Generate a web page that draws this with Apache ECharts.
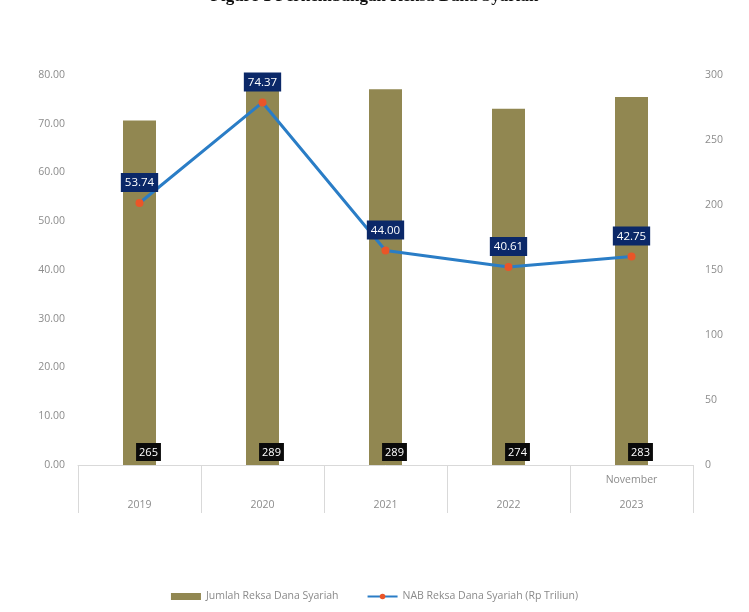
<!DOCTYPE html>
<html>
<head>
<meta charset="utf-8" />
<title>Reksa Dana Syariah</title>
<script src="https://cdn.jsdelivr.net/npm/echarts@6/dist/echarts.min.js"></script>
<style>
  html, body { margin: 0; padding: 0; background: #fff; }
  #main { width: 749px; height: 612px; }
</style>
</head>
<body>
<div id="main"></div>
<script>
  var years = ['2019', '2020', '2021', '2022', 'November\n2023'];
  var jumlah = [265, 289, 289, 274, 283];
  var nab = [53.74, 74.37, 44.00, 40.61, 42.75];
  var leftTicks = [0, 80, 10];
  var rightTicks = [0, 300, 50];

  var labelFont = '"Open Sans", "DejaVu Sans", sans-serif';

  var chart = echarts.init(document.getElementById('main'));
  var option = {
    animation: false,
    title: {
      text: 'Figure 1 Perkembangan Reksa Dana Syariah',
      left: 'center',
      top: -17,
      textStyle: { fontFamily: '"Liberation Serif", serif', fontSize: 17, fontWeight: 'bold', color: '#111' }
    },
    grid: { left: 78, right: 56, top: 75, bottom: 147 },
    legend: {
      bottom: 5,
      left: 'center',
      itemWidth: 30,
      itemHeight: 7,
      itemGap: 28,
      textStyle: { fontFamily: labelFont, fontSize: 10.5, color: '#8a8a8a' },
      data: [
        { name: 'Jumlah Reksa Dana Syariah', icon: 'rect' },
        { name: 'NAB Reksa Dana Syariah (Rp Triliun)' }
      ]
    },
    xAxis: {
      type: 'category',
      data: years,
      axisLine: { lineStyle: { color: '#d9d9d9' } },
      axisTick: { show: true, length: 48, lineStyle: { color: '#d9d9d9' } },
      axisLabel: {
        margin: 3,
        lineHeight: 25,
        fontFamily: labelFont,
        fontSize: 10.5,
        color: '#8c8c8c',
        formatter: function (v) { return v.indexOf('\n') < 0 ? '\n' + v : v; }
      }
    },
    yAxis: [{
      type: 'value',
      min: leftTicks[0], max: leftTicks[1], interval: leftTicks[2],
      axisLine: { show: false },
      axisTick: { show: false },
      splitLine: { show: false },
      axisLabel: {
        margin: 13, fontFamily: labelFont, fontSize: 10.5, color: '#8c8c8c',
        formatter: function (v) { return v.toFixed(2); }
      }
    }, {
      type: 'value',
      min: rightTicks[0], max: rightTicks[1], interval: rightTicks[2],
      axisLine: { show: false },
      axisTick: { show: false },
      splitLine: { show: false },
      axisLabel: { margin: 12, fontFamily: labelFont, fontSize: 10.5, color: '#8c8c8c' }
    }],
    series: [{
      name: 'Jumlah Reksa Dana Syariah',
      type: 'bar',
      yAxisIndex: 1,
      barWidth: 33,
      itemStyle: { color: '#918751' },
      label: {
        show: true,
        position: 'insideBottom',
        offset: [9, -4],
        distance: 0,
        backgroundColor: '#0a0a0a',
        color: '#fff',
        padding: [4, 3, 3, 3],
        fontFamily: labelFont,
        fontSize: 11
      },
      data: jumlah
    }, {
      name: 'NAB Reksa Dana Syariah (Rp Triliun)',
      type: 'line',
      yAxisIndex: 0,
      symbol: 'circle',
      symbolSize: 8,
      z: 5,
      lineStyle: { color: '#2a7dc6', width: 3 },
      itemStyle: { color: '#ea5528' },
      label: {
        show: true,
        position: 'top',
        distance: 7,
        backgroundColor: '#0b2868',
        color: '#fff',
        padding: [4, 4, 3, 4],
        fontFamily: labelFont,
        fontSize: 11.5,
        formatter: function (p) { return p.value.toFixed(2); }
      },
      data: nab
    }]
  };
  chart.setOption(option);
</script>
</body>
</html>
